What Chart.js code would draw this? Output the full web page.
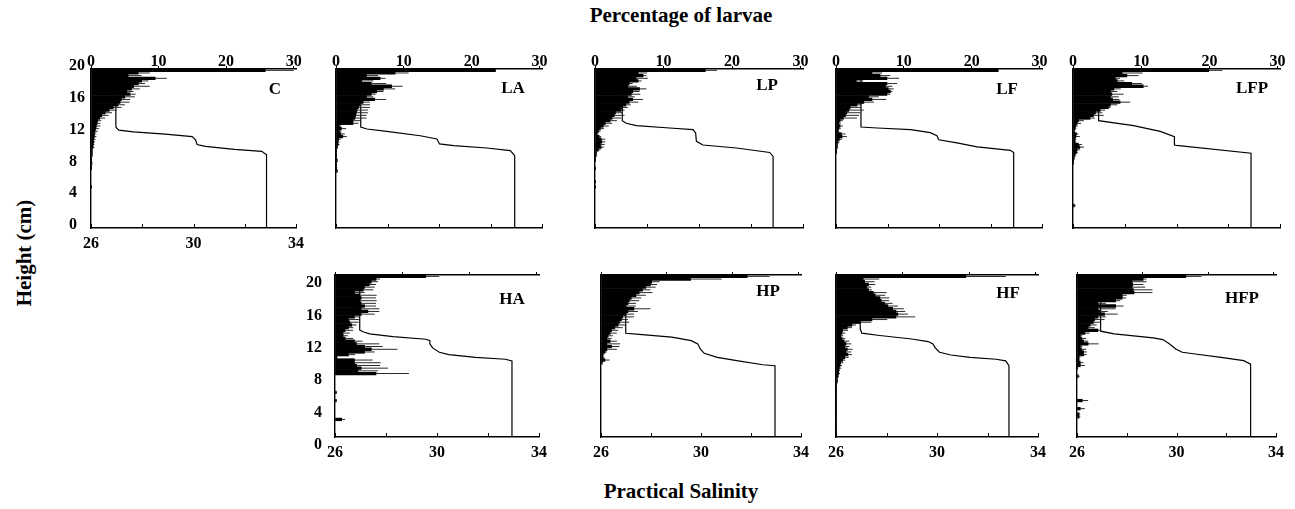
<!DOCTYPE html>
<html>
<head>
<meta charset="utf-8">
<script src="https://cdn.jsdelivr.net/npm/chart.js@4.4.1/dist/chart.umd.min.js"></script>
<style>
html,body{margin:0;padding:0;background:#fff;}
#fig{position:relative;width:1295px;height:509px;overflow:hidden;font-family:'Liberation Serif','Times New Roman',serif;font-weight:bold;color:#000;}
.pane{position:absolute;}
.t{position:absolute;white-space:nowrap;font-size:21px;line-height:21px;}
.lab{position:absolute;font-size:17px;line-height:17px;transform:translate(-50%,-50%);white-space:nowrap;}
</style>
</head>
<body>
<div id="fig">
  <div class="t" style="left:681px;top:15px;transform:translate(-50%,-50%);">Percentage of larvae</div>
  <div class="t" style="left:681px;top:491px;transform:translate(-50%,-50%);">Practical Salinity</div>
  <div class="t" style="left:24px;top:253px;transform:translate(-50%,-50%) rotate(-90deg);">Height (cm)</div>
</div>
<script>
// ---------- DATA ----------
const heights = [
  19.83, 19.5, 19.17, 18.83, 18.5, 18.17, 17.83, 17.5, 17.17, 16.83,
  16.5, 16.17, 15.83, 15.5, 15.17, 14.83, 14.5, 14.17, 13.83, 13.5,
  13.17, 12.83, 12.5, 12.17, 11.83, 11.5, 11.17, 10.83, 10.5, 10.17,
  9.83, 9.5, 9.17, 8.83, 8.5, 8.17, 7.83, 7.5, 7.17, 6.83,
  6.5, 6.17, 5.83, 5.5, 5.17, 4.83, 4.5, 4.17, 3.83, 3.5,
  3.17, 2.83, 2.5, 2.17, 1.83, 1.5, 1.17, 0.83, 0.5, 0.17
];

const pctC = [
  25.8, 7.0, 5.5, 9.5, 7.5, 7.0, 6.3, 6.0, 5.3, 5.8,
  5.0, 4.5, 4.3, 4.0, 3.3, 2.7, 2.1, 1.6, 1.3, 1.0,
  0.9, 0.8, 0.7, 0.6, 0.5, 0.5, 0.4, 0.4, 0.3, 0.3,
  0.2, 0.2, 0.2, 0.1, 0.1, 0.15, 0.1, 0.1, 0, 0,
  0, 0, 0, 0, 0.1, 0, 0, 0, 0, 0,
  0, 0, 0, 0, 0, 0, 0, 0, 0, 0
];
const errC = [
  4.2, 1.7, 2.0, 1.7, 1.0, 1.0, 2.4, 1.2, 1.0, 0.8,
  1.5, 1.3, 1.4, 1.0, 1.2, 1.1, 1.0, 1.0, 0.8, 0.5,
  0.5, 0.6, 0.5, 0.4, 0.3, 0.3, 0.3, 0.2, 0.2, 0.2,
  0, 0, 0, 0, 0, 0, 0, 0, 0, 0,
  0, 0, 0, 0, 0, 0, 0, 0, 0, 0,
  0, 0, 0, 0, 0, 0, 0, 0, 0, 0
];
const salC  = [32.85, 32.85, 32.66, 31.6, 30.46, 30.14, 30.08, 29.95, 28.9, 27.66, 27.08, 26.97, 26.97];
const salHC = [0, 9.2, 9.64, 9.9, 10.27, 10.5, 11.1, 11.5, 11.8, 12.08, 12.3, 12.7, 20];

const pctLA = [
  23.5, 8.7, 4.5, 6.5, 3.8, 5.2, 8.2, 7.0, 6.0, 5.2,
  4.5, 5.7, 4.0, 3.5, 3.3, 3.1, 3.0, 2.9, 2.8, 2.5,
  2.5, 0.5, 0.8, 0.5, 0.7, 1.0, 0.4, 0.3, 0.3, 0.2,
  0.1, 0.1, 0.1, 0.1, 0.2, 0.1, 0.1, 0.1, 0.2, 0,
  0, 0, 0, 0, 0, 0, 0, 0, 0, 0,
  0, 0, 0, 0, 0, 0, 0, 0, 0, 0
];
const errLA = [
  0, 2.0, 1.7, 0.8, 1.7, 2.2, 1.6, 1.7, 1.0, 0.6,
  1.0, 1.7, 1.0, 1.5, 1.7, 1.6, 1.7, 1.6, 1.7, 1.2,
  0.8, 0.3, 0.7, 0.3, 0.6, 0.6, 0.3, 0.2, 0.2, 0.1,
  0, 0, 0, 0, 0, 0, 0, 0, 0, 0,
  0, 0, 0, 0, 0, 0, 0, 0, 0, 0,
  0, 0, 0, 0, 0, 0, 0, 0, 0, 0
];
const salLA  = [32.94, 32.94, 32.77, 31.86, 30.57, 30.02, 29.92, 29.27, 27.97, 27.2, 26.96, 26.96];
const salHLA = [0, 9.1, 9.73, 10.06, 10.36, 10.57, 11.2, 11.6, 12.16, 12.45, 12.7, 20];

const pctLP = [
  16.1, 6.3, 7.0, 6.0, 6.3, 5.0, 4.8, 6.5, 5.5, 5.3,
  4.8, 5.5, 5.0, 4.5, 4.0, 3.8, 3.0, 2.8, 2.5, 2.2,
  1.5, 1.2, 0.8, 0.5, 0.3, 0.6, 0.9, 1.0, 0.8, 0.9,
  0.5, 0.2, 0.2, 0.1, 0.1, 0, 0, 0.1, 0, 0,
  0, 0, 0.1, 0, 0.1, 0, 0, 0, 0, 0,
  0, 0, 0, 0, 0, 0, 0, 0, 0, 0
];
const errLP = [
  1.7, 1.3, 0.5, 1.7, 0.5, 0.5, 1.3, 1.0, 1.0, 1.3,
  1.0, 1.5, 1.3, 0.7, 0.8, 0.5, 1.0, 1.5, 1.3, 1.0,
  1.0, 0.8, 0.5, 0.3, 0.2, 0.3, 0.6, 0.5, 0.6, 0.4,
  0.3, 0.1, 0.1, 0, 0, 0, 0, 0, 0, 0,
  0, 0, 0, 0, 0, 0, 0, 0, 0, 0,
  0, 0, 0, 0, 0, 0, 0, 0, 0, 0
];
const salLP  = [32.85, 32.85, 32.72, 31.44, 30.15, 29.9, 29.87, 29.77, 28.87, 27.59, 27.2, 27.05, 27.05];
const salHLP = [0, 9.0, 9.5, 10.06, 10.44, 10.9, 11.95, 12.37, 12.58, 12.87, 13.17, 13.5, 20];

const pctLF = [
  23.9, 5.3, 6.5, 7.5, 3.0, 7.5, 7.3, 7.7, 8.0, 7.5,
  4.8, 5.3, 4.1, 3.1, 2.1, 1.9, 1.6, 1.4, 1.1, 0.6,
  0.4, 0.6, 0.4, 0.3, 0.8, 0.9, 0.5, 0.3, 0.2, 0.2,
  0.1, 0.1, 0, 0, 0, 0, 0, 0, 0, 0,
  0, 0, 0, 0, 0, 0, 0, 0, 0, 0,
  0, 0, 0, 0, 0, 0, 0, 0, 0, 0
];
const errLF = [
  0, 1.5, 1.5, 1.8, 1.0, 1.5, 1.0, 0.8, 0.3, 0.5,
  1.5, 2.1, 1.5, 0.7, 1.7, 2.2, 2.0, 2.0, 2.0, 0.4,
  0.3, 0.4, 0.3, 0.2, 0.6, 0.7, 0.4, 0.2, 0.1, 0.1,
  0, 0, 0, 0, 0, 0, 0, 0, 0, 0,
  0, 0, 0, 0, 0, 0, 0, 0, 0, 0,
  0, 0, 0, 0, 0, 0, 0, 0, 0, 0
];
const salLF  = [32.9, 32.9, 32.77, 31.48, 30.7, 29.99, 29.92, 29.66, 28.9, 27.6, 26.97, 26.97];
const salHLF = [0, 9.5, 9.77, 10.2, 10.7, 11.1, 11.6, 12.0, 12.37, 12.58, 12.7, 20];

const pctLFP = [
  19.9, 7.2, 7.9, 6.2, 6.5, 8.6, 10.3, 6.0, 5.5, 5.7,
  5.5, 5.8, 6.9, 5.5, 5.2, 4.0, 3.3, 3.0, 2.5, 0.8,
  0.6, 0.4, 0.3, 0.2, 0.5, 0.4, 0.3, 0.3, 0.8, 1.0,
  0.6, 0.5, 0.3, 0.2, 0.1, 0.1, 0, 0, 0, 0,
  0, 0, 0, 0, 0, 0, 0, 0, 0, 0,
  0, 0.2, 0, 0, 0, 0, 0, 0, 0, 0
];
const errLFP = [
  2.0, 3.0, 1.7, 0.7, 1.0, 1.5, 0.7, 1.0, 1.0, 1.7,
  1.2, 1.0, 1.5, 1.0, 0.3, 0.7, 1.0, 1.5, 0.7, 0.8,
  0.6, 0.3, 0.2, 0.1, 0.3, 0.6, 0.2, 0.2, 0.5, 0.6,
  0.4, 0.2, 0.1, 0, 0, 0, 0, 0, 0, 0,
  0, 0, 0, 0, 0, 0, 0, 0, 0, 0,
  0, 0.2, 0, 0, 0, 0, 0, 0, 0, 0
];
const salLFP  = [32.88, 32.88, 30.0, 29.92, 29.92, 29.37, 28.34, 26.99, 26.99];
const salHLFP = [0, 9.4, 10.4, 10.44, 11.5, 12.16, 12.87, 13.5, 20];

const pctHA = [
  13.5, 6.1, 5.4, 5.1, 4.4, 4.2, 2.9, 3.7, 3.9, 3.7,
  3.9, 4.4, 3.9, 4.9, 3.9, 2.9, 2.0, 2.2, 2.5, 2.0,
  1.5, 1.2, 1.2, 1.5, 2.9, 3.2, 4.4, 5.4, 4.4, 2.0,
  0.3, 2.9, 2.9, 3.2, 3.9, 3.4, 6.1, 0, 0, 0,
  0, 0, 0, 0.2, 0, 0, 0.2, 0, 0, 0,
  0, 0, 0, 1.0, 0, 0, 0, 0, 0, 0
];
const errHA = [
  2.0, 0.6, 1.0, 1.0, 1.5, 1.5, 1.5, 2.5, 2.2, 2.5,
  2.2, 1.7, 2.7, 1.7, 2.0, 0.7, 1.7, 1.3, 0.7, 0.7,
  1.2, 1.0, 0.7, 1.2, 1.2, 3.4, 2.7, 3.9, 1.5, 1.0,
  0, 2.7, 3.9, 3.5, 4.0, 3.0, 4.9, 0, 0, 0,
  0, 0, 0, 0.1, 0, 0, 0.1, 0, 0, 0,
  0, 0, 0, 0.5, 0, 0, 0, 0, 0, 0
];
const salHA  = [32.94, 32.94, 32.68, 31.51, 30.47, 30.09, 29.83, 29.72, 29.72, 29.57, 28.27, 27.36, 27.1, 26.97, 26.97];
const salHHA = [0, 9.4, 9.6, 9.83, 10.17, 10.46, 11.0, 11.5, 11.9, 12.07, 12.4, 12.74, 13.0, 13.2, 20];

const pctHP = [
  22.2, 13.6, 7.7, 7.5, 6.8, 6.3, 5.8, 5.3, 4.6, 4.3,
  4.1, 3.8, 5.0, 4.1, 3.8, 3.3, 3.1, 2.8, 2.6, 2.1,
  1.6, 1.4, 1.1, 0.9, 1.4, 0.9, 1.6, 0.9, 0.6, 0.3,
  0.3, 0.6, 0.2, 0, 0, 0, 0, 0, 0, 0,
  0, 0, 0, 0, 0, 0, 0, 0, 0, 0,
  0, 0, 0, 0, 0, 0, 0, 0, 0, 0
];
const errHP = [
  3.4, 4.7, 1.2, 1.0, 1.5, 1.2, 2.0, 1.5, 1.5, 1.5,
  1.2, 1.5, 2.5, 1.5, 1.2, 1.7, 1.0, 1.5, 1.2, 1.2,
  1.0, 1.0, 0.7, 0.7, 1.0, 2.0, 1.2, 1.5, 0.3, 0.2,
  0.2, 0.7, 0.1, 0, 0, 0, 0, 0, 0, 0,
  0, 0, 0, 0, 0, 0, 0, 0, 0, 0,
  0, 0, 0, 0, 0, 0, 0, 0, 0, 0
];
const salHP  = [32.96, 32.96, 32.47, 31.43, 30.65, 30.13, 29.97, 29.87, 29.61, 28.83, 27.53, 26.99, 26.99];
const salHHP = [0, 8.8, 8.92, 9.42, 9.83, 10.33, 10.87, 11.5, 11.9, 12.32, 12.66, 12.8, 20];

const pctHF = [
  19.5, 4.1, 4.3, 4.9, 4.6, 4.9, 5.6, 5.9, 6.6, 6.8,
  7.3, 7.8, 8.5, 9.0, 9.3, 9.0, 5.4, 3.7, 2.4, 1.7,
  1.0, 0.9, 0.7, 0.9, 1.2, 1.5, 1.3, 1.7, 1.5, 1.8,
  1.3, 1.0, 0.7, 0.6, 0.5, 0.4, 0.4, 0.3, 0.2, 0.2,
  0.1, 0.1, 0.1, 0.1, 0.1, 0.1, 0.1, 0.1, 0.1, 0.1,
  0.1, 0.1, 0.1, 0.1, 0.1, 0.1, 0.1, 0.1, 0.1, 0
];
const errHF = [
  6.0, 2.4, 1.5, 1.0, 0.7, 0.5, 2.0, 1.5, 1.4, 1.2,
  1.2, 1.5, 1.7, 1.4, 1.5, 2.9, 2.3, 1.6, 0.6, 0.7,
  0.8, 0.5, 0.4, 0.5, 0.8, 0.8, 0.7, 0.8, 0.8, 0.6,
  0.6, 0.4, 0.4, 0.3, 0.3, 0.2, 0.2, 0.1, 0.1, 0.1,
  0, 0, 0, 0, 0, 0, 0, 0, 0, 0,
  0, 0, 0, 0, 0, 0, 0, 0, 0, 0
];
const salHF  = [32.85, 32.85, 32.72, 32.34, 31.31, 30.55, 30.1, 29.93, 29.84, 29.65, 29.0, 27.73, 27.02, 26.96, 26.96];
const salHHF = [0, 8.8, 9.4, 9.6, 9.83, 10.12, 10.46, 11.0, 11.5, 11.78, 12.1, 12.53, 12.82, 13.36, 20];

const pctHFP = [
  16.6, 10.1, 8.4, 8.5, 8.4, 8.6, 8.7, 6.9, 6.9, 5.9,
  3.2, 5.9, 3.2, 3.5, 4.2, 3.2, 2.7, 2.5, 2.0, 1.7,
  3.2, 1.2, 0.5, 0.7, 1.0, 1.7, 0.5, 0.7, 1.0, 1.0,
  0.3, 0.3, 0.5, 0.5, 0.1, 0, 0, 0.2, 0, 0,
  0, 0, 0, 0, 0, 0, 0.8, 0, 0, 0.5,
  0, 0.3, 0.3, 0, 0, 0, 0, 0, 0, 0
];
const errHFP = [
  2.4, 0.5, 2.2, 1.6, 2.0, 2.9, 2.8, 0.7, 0.6, 0.7,
  1.2, 1.2, 2.7, 1.2, 2.0, 1.2, 1.5, 1.0, 1.0, 1.0,
  0.5, 0.7, 0.3, 0.7, 0.7, 1.6, 0.3, 0.7, 0.5, 0.5,
  0.2, 0.2, 0.5, 0.7, 0, 0, 0, 0.2, 0, 0,
  0, 0, 0, 0, 0, 0, 0.9, 0, 0, 0.7,
  0, 0.2, 0.2, 0, 0, 0, 0, 0, 0, 0
];
const salHFP  = [32.98, 32.98, 32.7, 31.79, 30.75, 30.23, 29.97, 29.71, 29.45, 29.06, 27.5, 26.95, 26.95];
const salHHFP = [0, 9.0, 9.42, 9.83, 10.25, 10.46, 10.87, 11.5, 12.03, 12.24, 12.74, 13.07, 20];

const pctTicks = [0, 10, 20, 30];
const salinityTicks = [26, 28, 30, 32, 34];
const salinityTickLabels = [26, 30, 34];
const heightTicks = [0, 4, 8, 12, 16, 20];

const series = {
  C:   {pct: pctC,   err: errC,   sal: salC,   salH: salHC},
  LA:  {pct: pctLA,  err: errLA,  sal: salLA,  salH: salHLA},
  LP:  {pct: pctLP,  err: errLP,  sal: salLP,  salH: salHLP},
  LF:  {pct: pctLF,  err: errLF,  sal: salLF,  salH: salHLF},
  LFP: {pct: pctLFP, err: errLFP, sal: salLFP, salH: salHLFP},
  HA:  {pct: pctHA,  err: errHA,  sal: salHA,  salH: salHHA},
  HP:  {pct: pctHP,  err: errHP,  sal: salHP,  salH: salHHP},
  HF:  {pct: pctHF,  err: errHF,  sal: salHF,  salH: salHHF},
  HFP: {pct: pctHFP, err: errHFP, sal: salHFP, salH: salHHFP}
};

// ---------- LAYOUT ----------
const panels = [
  {key:'C',   left:91,   top:69,  w:207, h:159, yW:22, yLabels:true,  yAlign:'far',  yPad:0,  yOff:-3, topLabels:true,  botLabels:true,  botPad:8, lx:275,  ly:88},
  {key:'LA',  left:336,  top:69,  w:206, h:159, yW:12, yLabels:false, yAlign:'near', yPad:0,  yOff:0,  topLabels:true,  botLabels:false, botPad:8, lx:513,  ly:87},
  {key:'LP',  left:595,  top:69,  w:208, h:159, yW:12, yLabels:false, yAlign:'near', yPad:0,  yOff:0,  topLabels:true,  botLabels:false, botPad:8, lx:767,  ly:84},
  {key:'LF',  left:836,  top:69,  w:206, h:159, yW:12, yLabels:false, yAlign:'near', yPad:0,  yOff:0,  topLabels:true,  botLabels:false, botPad:8, lx:1007, ly:88},
  {key:'LFP', left:1073, top:69,  w:207, h:159, yW:12, yLabels:false, yAlign:'near', yPad:0,  yOff:0,  topLabels:true,  botLabels:false, botPad:8, lx:1252, ly:87},
  {key:'HA',  left:335,  top:275, w:206, h:162, yW:36, yLabels:true,  yAlign:'near', yPad:13, yOff:8,  topLabels:false, botLabels:true,  botPad:8, lx:512,  ly:298},
  {key:'HP',  left:597,  top:275, w:206, h:162, yW:12, yLabels:false, yAlign:'near', yPad:0,  yOff:0,  topLabels:false, botLabels:true,  botPad:8, lx:768,  ly:290},
  {key:'HF',  left:832,  top:275, w:208, h:162, yW:12, yLabels:false, yAlign:'near', yPad:0,  yOff:0,  topLabels:false, botLabels:true,  botPad:8, lx:1008, ly:292},
  {key:'HFP', left:1073, top:275, w:205, h:162, yW:12, yLabels:false, yAlign:'near', yPad:0,  yOff:0,  topLabels:false, botLabels:true,  botPad:8, lx:1242, ly:297}
];

const FONT = {family: "'Liberation Serif', 'Times New Roman', serif", weight: 'bold', size: 16, lineHeight: 1};
const AXIS_TOP = 25, AXIS_BOT = 28, PAD_R = 14;

const innerTicks = {
  id: 'innerTicks',
  afterDatasetsDraw(chart) {
    const s = chart.scales.xs, ctx = chart.ctx;
    ctx.save();
    ctx.strokeStyle = '#000';
    ctx.lineWidth = 1;
    s.ticks.forEach(t => {
      const x = Math.round(s.getPixelForValue(t.value)) + 0.5;
      ctx.beginPath();
      ctx.moveTo(x, s.top);
      ctx.lineTo(x, s.top - 4);
      ctx.stroke();
    });
    ctx.restore();
  }
};

const fig = document.getElementById('fig');

panels.forEach(p => {
  const s = series[p.key];
  const W = p.yW + p.w + PAD_R, H = AXIS_TOP + p.h + AXIS_BOT;
  const div = document.createElement('div');
  div.className = 'pane';
  div.style.left = (p.left - p.yW) + 'px';
  div.style.top = (p.top - AXIS_TOP) + 'px';
  div.style.width = W + 'px';
  div.style.height = H + 'px';
  const cv = document.createElement('canvas');
  cv.width = W; cv.height = H;
  cv.style.width = W + 'px'; cv.style.height = H + 'px';
  div.appendChild(cv);
  fig.appendChild(div);

  const lab = document.createElement('div');
  lab.className = 'lab';
  lab.style.left = p.lx + 'px';
  lab.style.top = p.ly + 'px';
  lab.textContent = p.key;
  fig.appendChild(lab);

  const bars = [], errs = [];
  heights.forEach((h, i) => {
    if (s.pct[i] > 0) bars.push({x: s.pct[i], y: h});
    if (s.err[i] > 0) errs.push({x: [s.pct[i], s.pct[i] + s.err[i]], y: h});
  });
  const line = s.sal.map((v, i) => ({x: v, y: s.salH[i]}));

  new Chart(cv, {
    type: 'bar',
    data: {
      datasets: [
        {type: 'bar', data: bars, xAxisID: 'x', yAxisID: 'y', backgroundColor: '#000', borderWidth: 0,
         barPercentage: 1, categoryPercentage: 1, grouped: false, order: 0},
        {type: 'bar', data: errs, xAxisID: 'x', yAxisID: 'y', backgroundColor: '#2a2a2a', borderWidth: 0,
         barThickness: 1, grouped: false, inflateAmount: 0, order: 1},
        {type: 'line', data: line, xAxisID: 'xs', yAxisID: 'y', borderColor: '#000', borderWidth: 1.2,
         pointRadius: 0, fill: false, tension: 0, order: 2}
      ]
    },
    options: {
      indexAxis: 'y',
      responsive: false,
      animation: false,
      devicePixelRatio: 1,
      events: [],
      layout: {padding: {left: 0, top: 0, right: PAD_R, bottom: 0}},
      plugins: {legend: {display: false}, tooltip: {enabled: false}},
      scales: {
        x: {
          type: 'linear', position: 'top', min: 0, max: 30.35, offset: false,
          afterBuildTicks: sc => { sc.ticks = pctTicks.map(v => ({value: v})); },
          afterFit: sc => { sc.height = AXIS_TOP; },
          grid: {display: true, offset: false, drawOnChartArea: false, drawTicks: true, tickLength: 3, color: '#000', lineWidth: 1},
          border: {display: true, color: '#000', width: 1.4},
          ticks: {display: p.topLabels, padding: -4, font: FONT, color: '#000', maxRotation: 0, autoSkip: false}
        },
        xs: {
          type: 'linear', position: 'bottom', min: 26, max: 34, offset: false,
          afterBuildTicks: sc => { sc.ticks = salinityTicks.map(v => ({value: v})); },
          afterFit: sc => { sc.height = AXIS_BOT; },
          grid: {display: false, offset: false, drawTicks: false},
          border: {display: true, color: '#000', width: 1.4},
          ticks: {display: p.botLabels, padding: p.botPad, font: FONT, color: '#000', maxRotation: 0, autoSkip: false,
                  callback: v => salinityTickLabels.includes(v) ? String(v) : ''}
        },
        y: {
          type: 'linear', position: 'left', min: 0, max: 20, offset: false,
          afterBuildTicks: sc => { sc.ticks = heightTicks.map(v => ({value: v})); },
          afterFit: sc => { sc.width = p.yW; },
          grid: {display: false, offset: false, drawTicks: false},
          border: {display: true, color: '#000', width: 1.4},
          ticks: {display: p.yLabels, crossAlign: p.yAlign, padding: p.yPad, labelOffset: p.yOff,
                  font: FONT, color: '#000', autoSkip: false}
        }
      }
    },
    plugins: [innerTicks]
  });
});
</script>
</body>
</html>
